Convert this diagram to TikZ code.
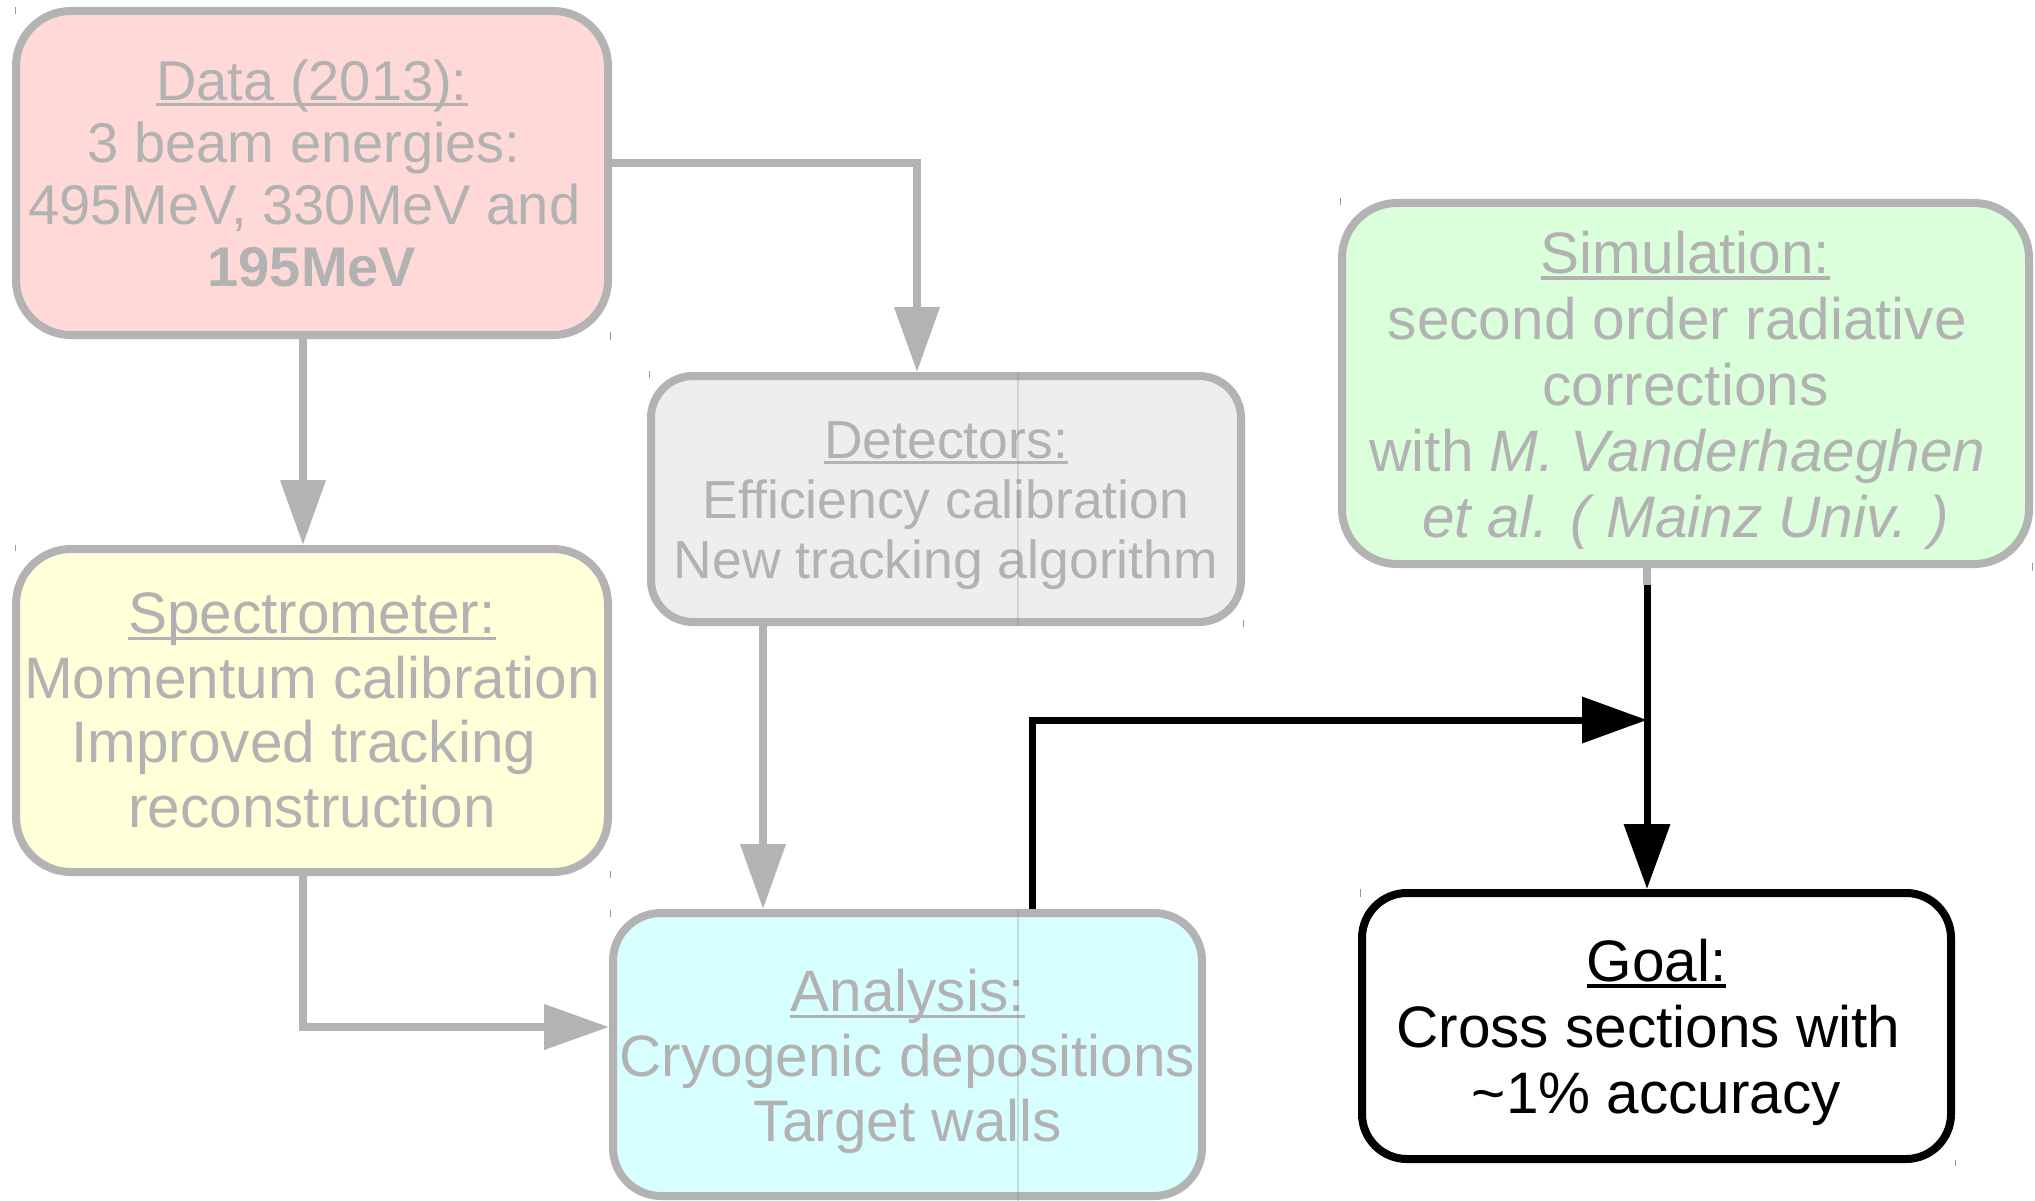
\documentclass[tikz,border=0pt]{standalone}
\usepackage{fontspec}
\setmainfont{Liberation Sans}
\usetikzlibrary{arrows.meta,calc}
\definecolor{bord}{RGB}{179,179,179}
\definecolor{txt}{RGB}{178,178,178}
\definecolor{cdata}{RGB}{255,216,216}
\definecolor{cspec}{RGB}{255,255,216}
\definecolor{cdet}{RGB}{238,238,238}
\definecolor{csim}{RGB}{218,255,218}
\definecolor{cana}{RGB}{216,255,255}
\newcommand\myul[1]{\setbox0\hbox{#1}\rlap{\rule[-0.11em]{\wd0}{0.06em}}\box0}
\newcommand\tsp{\kern0.278em}
\begin{document}
\begin{tikzpicture}[x=1pt,y=-1pt,
  box/.style={draw=bord, line width=8pt, rounded corners=55pt, inner sep=0pt},
  label text/.style={text=txt, align=center, inner sep=0pt,
    font=\fontsize{58.5pt}{65pt}\selectfont},
  conn/.style={draw=bord, line width=7.5pt},
  arr/.style={conn, -{Triangle[length=65pt,width=44pt]}},
  blkarr/.style={draw=black, line width=7pt, -{Triangle[length=65pt,width=45pt]}},
  tickmark/.style={draw=gray!80, line width=1pt},
  artline/.style={draw=gray, line width=1.5pt, opacity=0.25}]
\useasboundingbox (0,0) rectangle (2035,1201);

% boxes
\node[box, fill=cdata, minimum width=592pt, minimum height=324pt] (data) at (312,173) {};
\node[box, fill=cspec, minimum width=592pt, minimum height=323pt] (spec) at (312,710.5) {};
\node[box, fill=cdet, minimum width=590pt, minimum height=246pt, rounded corners=42pt] (det) at (946,499) {};
\node[box, fill=csim, minimum width=687pt, minimum height=361pt] (sim) at (1685.5,383.5) {};
\node[box, fill=cana, minimum width=589pt, minimum height=283pt, rounded corners=48pt] (ana) at (907.5,1054.5) {};
\node[box, draw=black, fill=white, minimum width=589pt, minimum height=266pt, rounded corners=45pt] (goal) at (1656.5,1026) {};

% texts
\node[label text, font=\fontsize{56pt}{62pt}\selectfont] (datat) at (data.center)
  {\myul{Data (2013):}\\3 beam energies:\tsp\\495MeV, 330MeV and\tsp\\\textbf{195MeV}};
\node[label text, font=\fontsize{58.5pt}{64.5pt}\selectfont] (spect) at (spec.center)
  {\myul{Spectrometer:}\\Momentum calibration\\Improved tracking\tsp\\reconstruction};
\node[label text, font=\fontsize{53.5pt}{60pt}\selectfont, yshift=-6.5pt] (dett) at (det.center)
  {\myul{Detectors:}\\Efficiency calibration\\New tracking algorithm};
\node[label text, font=\fontsize{58.5pt}{66pt}\selectfont, yshift=-6.5pt] (simt) at (sim.center)
  {\myul{Simulation:}\\second order radiative\tsp\\corrections\\with \textit{M. Vanderhaeghen}\tsp\\\textit{et al. ( Mainz Univ. )}};
\node[label text, yshift=-7pt] (anat) at (ana.center)
  {\myul{Analysis:}\\Cryogenic depositions\\Target walls};
\node[label text, text=black, font=\fontsize{58.5pt}{66pt}\selectfont, yshift=-6pt] (goalt) at (goal.center)
  {\myul{Goal:}\\Cross sections with\tsp\\\textasciitilde1\% accuracy};

% faint artifact lines
\draw[artline] (1018,372) -- (1018,626);
\draw[artline] (1018,909) -- (1018,1201);

% connectors
\coordinate (c1) at (917,163);
\draw[arr] (data.east |- c1) -- (c1) -- (c1 |- det.north);
\coordinate (x1) at (303,0);
\draw[arr] (data.south -| x1) -- (spec.north -| x1);
\coordinate (c2) at (303,1027);
\draw[arr] (spec.south -| c2) -- (c2) -- (c2 -| ana.west);
\coordinate (x3) at (763,0);
\draw[arr] (det.south -| x3) -- (ana.north -| x3);
\coordinate (j) at (1647,720);
\coordinate (x4) at (1032,0);
\draw[blkarr] (ana.north -| x4) -- (x4 |- j) -- (j);
\draw[conn] (sim.south -| j) -- ++(0,17) coordinate (k);
\draw[blkarr] (k) -- (goal.north -| j);

% small tick marks
\draw[tickmark] (15,7) -- (15,14);
\draw[tickmark] (610,332) -- (610,340);
\draw[tickmark] (15,545) -- (15,551);
\draw[tickmark] (610,871) -- (610,878);
\draw[tickmark] (649,371) -- (649,378);
\draw[tickmark] (1243,620) -- (1243,627);
\draw[tickmark] (610,910) -- (610,917);
\draw[tickmark] (1340,198) -- (1340,205);
\draw[tickmark] (2032,563) -- (2032,571);
\draw[tickmark] (1360,889) -- (1360,897);
\draw[tickmark] (1955,1160) -- (1955,1166);
\end{tikzpicture}
\end{document}
